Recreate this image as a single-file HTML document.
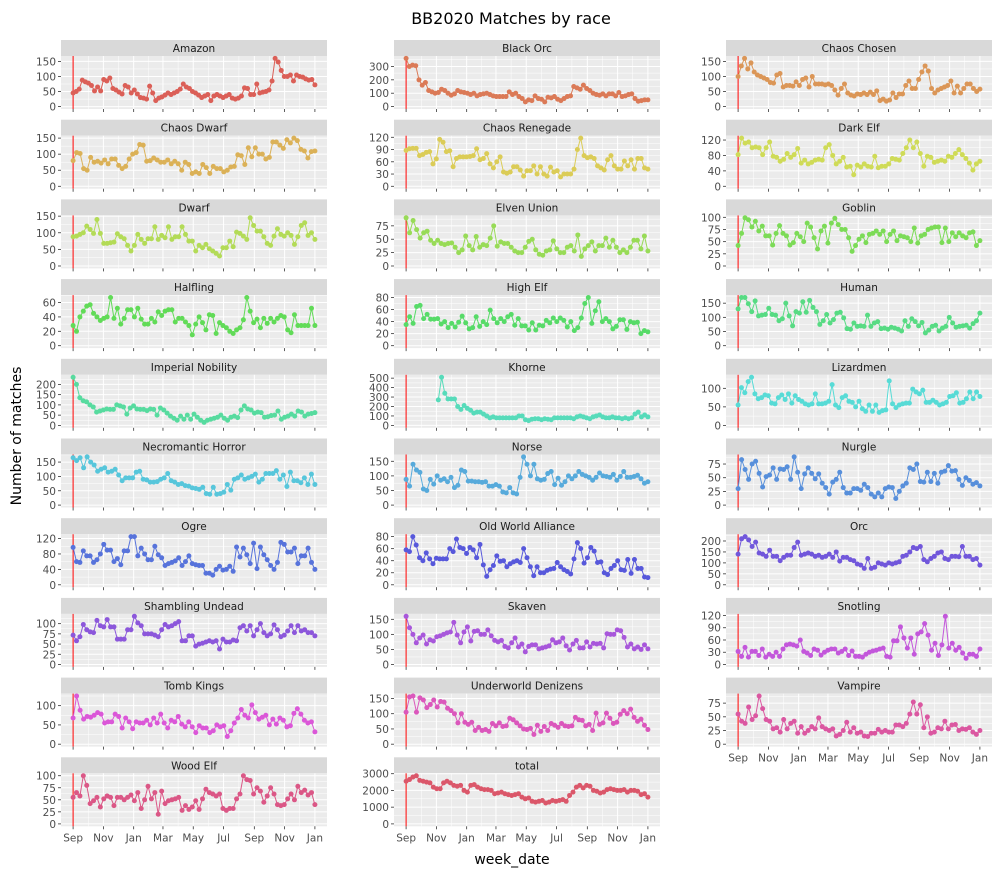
<!DOCTYPE html>
<html><head><meta charset="utf-8">
<style>
html,body{margin:0;padding:0;background:#fff;}
svg{display:block;font-family:"DejaVu Sans","Liberation Sans",sans-serif;}
</style></head>
<body>
<svg id="chart" width="1001" height="878" viewBox="0 0 1001 878">
<text x="511" y="24" text-anchor="middle" font-size="16" fill="#000">BB2020 Matches by race</text>
<text transform="translate(21,436) rotate(-90)" text-anchor="middle" font-size="14" fill="#000">Number of matches</text>
<text x="512" y="864" text-anchor="middle" font-size="14" fill="#000">week_date</text>
</svg>
<script>
const raceNames = ["Amazon","Black Orc","Chaos Chosen","Chaos Dwarf","Chaos Renegade","Dark Elf","Dwarf","Elven Union","Goblin","Halfling","High Elf","Human","Imperial Nobility","Khorne","Lizardmen","Necromantic Horror","Norse","Nurgle","Ogre","Old World Alliance","Orc","Shambling Undead","Skaven","Snotling","Tomb Kings","Underworld Denizens","Vampire","Wood Elf","total"];
const tickSteps = [50,100,50,50,30,40,50,25,25,20,20,50,50,100,50,50,50,25,40,20,50,25,50,30,50,50,25,25,1000];
const monthLabels = ["Sep","Nov","Jan","Mar","May","Jul","Sep","Nov","Jan"];
const monthDays = [0,61,122,181,242,303,365,426,487];

const amazon = [45,50,58,88,82,78,70,52,65,52,90,85,95,60,55,48,42,70,65,45,55,42,30,28,25,68,45,20,28,32,38,45,40,45,50,58,75,65,60,50,45,38,30,35,40,20,35,40,35,30,35,40,28,25,28,35,62,60,40,40,75,45,48,50,55,85,160,148,120,100,100,105,85,105,100,98,92,88,90,72];
const blackOrc = [360,300,310,305,200,160,180,120,110,100,105,130,120,100,85,95,120,110,105,100,90,100,80,90,95,100,90,80,75,75,75,75,110,90,100,75,60,35,50,45,80,60,55,35,70,65,75,55,45,60,75,80,150,140,130,160,135,120,100,90,85,95,80,95,95,80,105,75,80,90,95,60,40,45,50,50];
const chaosChosen = [100,135,160,125,145,115,105,100,95,90,80,78,105,110,65,70,70,68,82,70,90,95,65,100,75,75,75,72,75,70,55,38,60,75,45,38,35,42,40,45,40,48,40,52,20,25,18,22,45,30,42,42,70,85,60,60,90,115,135,118,60,45,55,60,65,70,85,45,68,45,60,75,75,60,50,58];
const chaosDwarf = [80,105,102,55,50,90,75,78,72,82,70,85,85,65,55,62,85,100,105,130,128,78,80,88,82,75,75,82,70,78,70,50,75,68,40,45,40,68,58,40,62,55,55,45,50,60,62,98,95,68,120,92,120,100,100,85,90,138,138,128,118,145,135,150,142,115,110,88,108,110];
const chaosRenegade = [88,92,93,93,75,78,83,85,55,67,115,108,85,87,48,68,72,72,72,73,75,92,65,68,80,55,45,60,72,35,32,35,48,48,40,25,38,38,50,30,48,30,25,47,35,38,23,30,30,30,42,90,118,75,70,72,68,50,45,40,65,75,50,42,42,62,50,65,42,68,68,45,42];
const darkElf = [82,125,112,115,100,102,100,82,100,115,78,75,65,70,85,75,82,98,60,68,58,62,68,70,68,100,108,80,58,65,75,50,52,30,55,50,58,52,50,78,48,52,52,58,72,70,68,85,100,120,100,115,85,52,78,75,62,65,68,65,78,75,85,95,82,72,60,42,58,65];
const dwarf = [88,90,95,100,120,110,98,140,98,68,68,70,72,97,88,82,62,45,62,95,80,68,82,82,118,80,92,85,118,80,88,88,118,95,75,75,45,62,55,65,52,45,38,30,55,55,75,58,102,98,90,80,145,122,105,105,88,68,62,90,112,95,90,100,92,65,88,122,130,92,100,80];
const elvenUnion = [90,62,85,68,52,62,65,48,42,48,42,40,42,43,35,25,30,56,38,30,55,35,40,38,52,75,37,45,42,42,35,28,25,25,35,46,50,30,22,20,28,30,47,32,25,25,35,38,28,58,18,32,38,45,28,38,38,52,35,48,35,25,30,25,35,48,48,32,56,28];
const goblin = [42,67,99,95,80,92,72,82,62,62,43,67,83,67,62,43,48,67,60,50,88,80,58,35,72,82,47,88,98,85,75,75,58,30,42,55,62,48,65,67,72,65,72,50,65,72,52,62,60,58,50,78,47,62,65,75,78,80,80,48,78,50,68,60,68,62,58,68,70,42,52];
const halfling = [28,20,40,48,55,57,45,40,35,38,40,67,38,52,30,38,50,50,40,52,37,30,30,38,33,47,42,48,50,50,33,38,38,33,28,15,30,40,32,22,43,42,17,32,28,25,20,17,22,25,36,67,48,32,37,25,38,31,38,33,38,42,40,22,18,43,28,28,28,28,52,28];
const highElf = [35,48,37,65,67,45,52,44,44,45,36,40,30,37,31,39,49,38,28,30,48,32,40,35,59,45,38,45,40,48,52,34,45,33,33,26,38,26,34,33,42,38,46,40,46,42,31,40,25,30,46,70,80,37,58,73,40,45,40,28,32,43,43,27,40,38,39,20,25,23];
const human = [130,170,170,148,120,158,105,108,110,132,110,108,88,95,150,105,70,120,115,155,118,160,135,120,75,88,110,80,92,115,118,98,60,58,80,68,70,68,108,68,80,85,60,62,58,65,62,58,52,88,68,95,85,70,82,45,55,68,72,52,62,68,100,80,65,68,70,72,62,78,88,115];
const imperialNobility = [235,200,135,120,115,100,90,65,70,75,80,78,78,100,95,90,55,85,95,80,78,78,72,80,78,50,85,75,60,45,35,25,45,30,50,30,55,40,25,15,25,30,35,40,50,35,25,40,45,38,75,95,80,75,60,65,62,40,42,48,50,70,30,40,45,55,45,70,65,45,55,58,62];
const khorne = [null,null,null,null,null,null,null,null,null,null,270,510,340,280,280,280,200,170,210,180,160,130,140,140,120,100,80,90,80,80,80,80,80,80,80,100,100,60,50,65,70,70,60,70,65,60,80,80,80,80,80,80,70,90,100,90,80,70,90,100,110,90,80,80,90,80,80,70,80,70,80,120,140,90,110,90];
const lizardmen = [55,102,88,118,130,85,72,75,82,80,60,58,75,82,70,85,60,80,70,65,58,55,58,85,58,58,60,65,110,55,48,75,80,65,62,50,65,45,38,55,38,55,35,40,42,120,58,48,55,58,60,60,98,90,85,95,62,62,68,62,55,58,62,78,80,88,60,62,72,90,72,90,78];
const necromanticHorror = [165,155,165,130,168,150,140,118,125,130,115,118,125,105,85,95,95,95,115,118,90,88,80,80,82,90,95,110,85,80,72,75,68,66,60,58,55,62,40,38,62,38,40,45,72,52,90,95,105,90,95,100,108,80,90,110,110,110,120,90,105,65,115,85,85,78,95,72,108,72];
const norse = [88,65,140,120,112,55,50,88,72,100,85,90,80,95,60,68,120,115,82,82,80,80,78,80,65,65,70,65,45,42,60,42,38,95,165,140,100,140,90,85,88,108,115,70,92,68,80,100,90,100,115,105,100,95,85,95,110,100,98,95,105,85,98,115,95,95,98,102,90,75,80];
const nurgle = [30,83,65,47,75,80,58,33,52,55,68,47,66,65,70,47,88,60,30,57,68,58,48,57,40,32,20,42,47,60,32,22,22,30,30,27,38,32,20,15,22,15,30,33,32,12,25,35,40,68,65,75,43,42,60,43,58,40,60,62,72,62,63,47,36,50,45,38,41,35];
const ogre = [97,60,58,88,75,75,58,65,80,105,90,90,60,68,52,88,88,125,125,75,95,80,65,65,100,78,70,50,55,58,62,70,50,60,75,55,52,50,50,30,30,25,40,48,38,40,48,35,98,72,95,78,55,108,42,98,78,65,50,40,58,110,105,85,85,95,55,75,75,95,58,40];
const oldWorldAlliance = [58,55,80,66,45,40,53,43,35,44,43,43,43,60,55,76,62,60,52,62,58,45,67,33,14,25,32,48,39,40,30,35,38,40,37,60,45,30,15,30,20,20,24,26,27,37,30,25,22,18,43,70,60,36,45,62,56,37,38,20,17,27,32,40,25,24,42,19,42,27,27,13,12];
const orc = [140,210,220,205,175,195,145,140,130,158,130,130,110,125,135,135,170,195,135,140,145,140,130,135,125,130,140,125,150,108,125,125,115,110,95,90,75,120,75,80,100,95,90,100,95,100,105,130,135,150,170,165,175,115,105,120,130,145,150,120,115,130,130,128,175,130,130,115,120,90];
const shamblingUndead = [72,58,68,98,85,80,78,108,95,92,110,92,92,62,62,62,85,85,118,102,95,75,75,75,72,68,85,98,92,95,100,105,58,58,70,70,45,50,52,55,58,55,58,38,62,55,55,60,58,90,95,82,95,70,85,100,78,70,75,97,85,68,72,82,95,78,95,82,85,78,78,70];
const skaven = [160,122,100,72,88,98,68,82,78,92,95,100,105,108,140,98,72,108,125,78,110,112,100,100,115,95,80,75,80,60,55,72,88,58,68,42,60,65,65,52,55,58,62,82,72,75,88,62,48,68,80,55,55,75,58,70,68,70,55,102,100,100,115,112,90,58,68,52,58,50,65,52];
const snotling = [32,20,42,18,32,32,22,38,18,25,20,30,20,38,48,50,48,45,60,32,28,22,38,35,23,30,35,38,38,28,32,38,22,33,20,20,18,25,30,33,35,38,40,20,18,58,58,92,65,40,65,25,75,80,100,72,35,52,22,48,118,40,52,35,42,28,15,25,25,20,38];
const tombKings = [68,125,88,65,72,70,75,82,78,55,58,58,78,72,42,68,58,40,58,55,55,62,50,68,55,78,55,42,62,58,72,52,45,58,45,30,48,42,42,30,35,50,45,48,20,35,55,68,90,75,68,102,82,65,70,75,50,65,52,68,62,45,48,80,92,78,62,55,58,32];
const underworldDenizens = [105,155,158,105,152,145,120,130,145,122,140,138,118,110,100,70,100,72,65,72,45,55,45,48,42,68,60,70,58,60,85,80,70,60,50,48,52,32,62,42,58,45,68,62,55,68,60,58,60,88,80,78,60,65,45,102,65,70,102,85,68,72,98,110,100,115,88,75,82,62,48];
const vampire = [55,42,38,68,45,52,88,65,45,42,28,30,22,45,28,38,42,20,32,20,25,32,28,48,32,28,25,28,15,18,25,40,22,30,20,22,15,14,20,20,27,22,25,22,22,35,35,32,38,55,77,55,72,30,50,20,22,30,28,42,28,35,36,25,28,27,30,22,18,25];
const woodElf = [55,65,58,100,80,42,48,55,35,52,58,55,38,55,55,50,55,60,48,65,32,50,78,52,65,20,68,42,48,50,52,55,28,38,30,35,48,30,52,72,65,62,58,62,32,28,32,32,52,62,100,92,90,62,75,68,45,58,75,62,40,38,40,52,62,50,78,65,70,60,65,40];
const total = [2550,2650,2800,2880,2600,2550,2500,2450,2200,2100,2100,2450,2550,2450,2300,2250,2300,2000,1900,2300,2350,2200,2100,2050,2050,2000,1800,1850,1900,1800,1750,1700,1750,1800,1600,1500,1550,1350,1300,1350,1400,1250,1300,1400,1350,1400,1450,1350,1700,1900,2200,2300,2150,2300,2250,2000,1950,1850,1900,2050,2100,2050,2000,2000,2050,1900,2000,2000,1950,1750,1800,1600];

const seriesList = [amazon,blackOrc,chaosChosen,chaosDwarf,chaosRenegade,darkElf,dwarf,elvenUnion,goblin,halfling,highElf,human,imperialNobility,khorne,lizardmen,necromanticHorror,norse,nurgle,ogre,oldWorldAlliance,orc,shamblingUndead,skaven,snotling,tombKings,underworldDenizens,vampire,woodElf,total];

const NS = "http://www.w3.org/2000/svg";
const svg = document.getElementById('chart');
function mk(tag, attrs, parent){ const e=document.createElementNS(NS,tag); for(const k in attrs) e.setAttribute(k,attrs[k]); (parent||svg).appendChild(e); return e; }

function hls(h){ // plotnine hue_pal: l=0.6, s=0.65
  const l=0.6, s=0.65;
  const C=(1-Math.abs(2*l-1))*s;
  const hp=(h%1)*6, X=C*(1-Math.abs(hp%2-1));
  let r,g,b;
  if(hp<1){r=C;g=X;b=0;} else if(hp<2){r=X;g=C;b=0;} else if(hp<3){r=0;g=C;b=X;}
  else if(hp<4){r=0;g=X;b=C;} else if(hp<5){r=X;g=0;b=C;} else {r=C;g=0;b=X;}
  const m=l-C/2;
  const f=c=>Math.round((c+m)*255);
  return `rgb(${f(r)},${f(g)},${f(b)})`;
}

const colX=[61,394,726], PW=266, PITCH=79.7, STRIP=16, PH=53;
const N=raceNames.length;
const xData = (w)=> 12.1 + w/69*241.8;
const dayToW = d => d/487*69;

for(let i=0;i<N;i++){
  const col=i%3, row=Math.floor(i/3);
  const px=colX[col], top=40+row*PITCH, pt=top+STRIP, pb=pt+PH;
  const g=mk('g',{});
  
  
  const strip=mk('rect',{x:px,y:top,width:PW,height:STRIP,fill:'#d9d9d9'},g);
  
  
  const st=mk('text',{x:px+PW/2,y:top+12,'text-anchor':'middle','font-size':10.5,fill:'#1a1a1a'},g);
  st.textContent=raceNames[i];
  
  
  const bg=mk('rect',{x:px,y:pt,width:PW,height:PH,fill:'#ebebeb'},g);
  
  
  const data=seriesList[i];
  const M=Math.max(...data.filter(v=>v!==null));
  const lo=-0.05*M, hi=1.05*M;
  const ys=v=> pb-(v-lo)/(hi-lo)*PH;
  const xs=w=> px+xData(w);
  const step=tickSteps[i];
  for(let v=step/2; v<hi; v+=step){ const l=mk('line',{x1:px,x2:px+PW,y1:ys(v),y2:ys(v),stroke:'#fff','stroke-width':0.5},g);   }
  for(let k=0;k<monthDays.length-1;k++){ const w=dayToW((monthDays[k]+monthDays[k+1])/2); const l=mk('line',{x1:xs(w),x2:xs(w),y1:pt,y2:pb,stroke:'#fff','stroke-width':0.5},g);   }
  for(let v=0; v<=hi+step*0.02; v+=step){
    const y=ys(v);
    const l=mk('line',{x1:px,x2:px+PW,y1:y,y2:y,stroke:'#fff','stroke-width':1},g);
    
    
    const tk=mk('line',{x1:px-3,x2:px,y1:y,y2:y,stroke:'#333','stroke-width':0.8},g);
    
    
    const t=mk('text',{x:px-5,y:y+4,'text-anchor':'end','font-size':10.5,fill:'#4d4d4d'},g);
    t.textContent=String(v);
    
    
  }
  const bottomPanel = (i+3>=N);
  for(let k=0;k<monthDays.length;k++){
    const x=xs(dayToW(monthDays[k]));
    const l=mk('line',{x1:x,x2:x,y1:pt,y2:pb,stroke:'#fff','stroke-width':1},g);
    
    
    const tk=mk('line',{x1:x,x2:x,y1:pb,y2:pb+3,stroke:'#333','stroke-width':0.8},g);
    
    
    if(bottomPanel){
      const t=mk('text',{x:x,y:pb+15,'text-anchor':'middle','font-size':10.5,fill:'#4d4d4d'},g);
      t.textContent=monthLabels[k];
      
      
    }
  }
  const rl=mk('line',{x1:xs(0),x2:xs(0),y1:pt,y2:pb,stroke:'#ff0000','stroke-width':1},g);
  
  
  const color=hls(0.01+i/N);
  const n=data.length;
  let d='', pen=false;
  const pts=[];
  for(let j=0;j<n;j++){
    if(data[j]===null){pen=false;continue;}
    const x=xs(j/(n-1)*69), y=ys(data[j]);
    d+=(pen?'L':'M')+x.toFixed(1)+','+y.toFixed(1);
    pen=true; pts.push([x,y]);
  }
  const path=mk('path',{d:d,fill:'none',stroke:color,'stroke-width':1},g);
  
  
  for(const [x,y] of pts){
    const c=mk('circle',{cx:x,cy:y,r:2.5,fill:color},g);
    
    
  }
}
</script>
</body></html>
